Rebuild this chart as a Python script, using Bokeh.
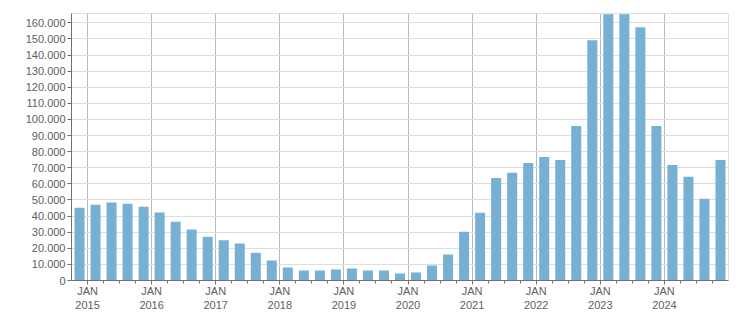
from bokeh.plotting import figure
from bokeh.models import FixedTicker, ColumnDataSource, Range1d
from bokeh.embed import file_html
from bokeh.resources import INLINE

# Quarterly values, Q4 2014 .. Q4 2024 (bar i centered half a quarter before its quarter tick)
values = [45200, 47000, 48400, 47700, 45800, 42300, 36500, 31600, 27200, 25000,
          22900, 17300, 12400, 8100, 6200, 6200, 6800, 7400, 6200, 6200,
          4300, 5000, 9300, 16100, 30300, 42100, 63700, 66900, 73000, 76700,
          74900, 95900, 149200, 165300, 165300, 157200, 95900, 71800, 64400, 50700,
          74900]
years = [2015, 2016, 2017, 2018, 2019, 2020, 2021, 2022, 2023, 2024]
y_ticks = list(range(0, 160001, 10000))

x_pos = [i - 0.5 for i in range(len(values))]
year_ticks = [4 * (y - years[0]) for y in years]
minor = [q for q in range(0, 41) if q % 4 != 0]

src = ColumnDataSource(dict(x=x_pos, top=values))

p = figure(width=751, height=313, output_backend="svg", toolbar_location=None,
           x_range=Range1d(-1, 40), y_range=Range1d(0, 165800),
           min_border_left=71, min_border_right=23, min_border_top=13, min_border_bottom=32)
p.vbar(x="x", top="top", width=0.625, source=src, color="#77b0d3", line_color=None)

font = "Liberation Sans"
lab_col = "#606060"

p.xaxis.ticker = FixedTicker(ticks=year_ticks, minor_ticks=minor)
p.xaxis.major_label_overrides = {t: f"JAN\n{y}" for t, y in zip(year_ticks, years)}
p.yaxis.ticker = FixedTicker(ticks=y_ticks)
p.yaxis.major_label_overrides = {v: f"{v:,}".replace(",", ".") for v in y_ticks}

for ax in (p.xaxis, p.yaxis):
    ax.axis_line_color = "#707070"
    ax.major_tick_line_color = "#707070"
    ax.minor_tick_line_color = "#707070"
    ax.major_tick_in = 0
    ax.major_tick_out = 4
    ax.minor_tick_in = 0
    ax.minor_tick_out = 3
    ax.major_label_text_font = font
    ax.major_label_text_font_size = "11px"
    ax.major_label_text_color = lab_col
p.yaxis.minor_tick_line_color = None
p.xaxis.major_label_standoff = 0
p.yaxis.major_label_standoff = 2

p.xgrid.ticker = FixedTicker(ticks=year_ticks)
p.xgrid.grid_line_color = "#b8b8b8"
p.ygrid.grid_line_color = "#dddddd"
p.outline_line_color = "#dddddd"

open("out.html", "w").write(file_html(p, INLINE))
